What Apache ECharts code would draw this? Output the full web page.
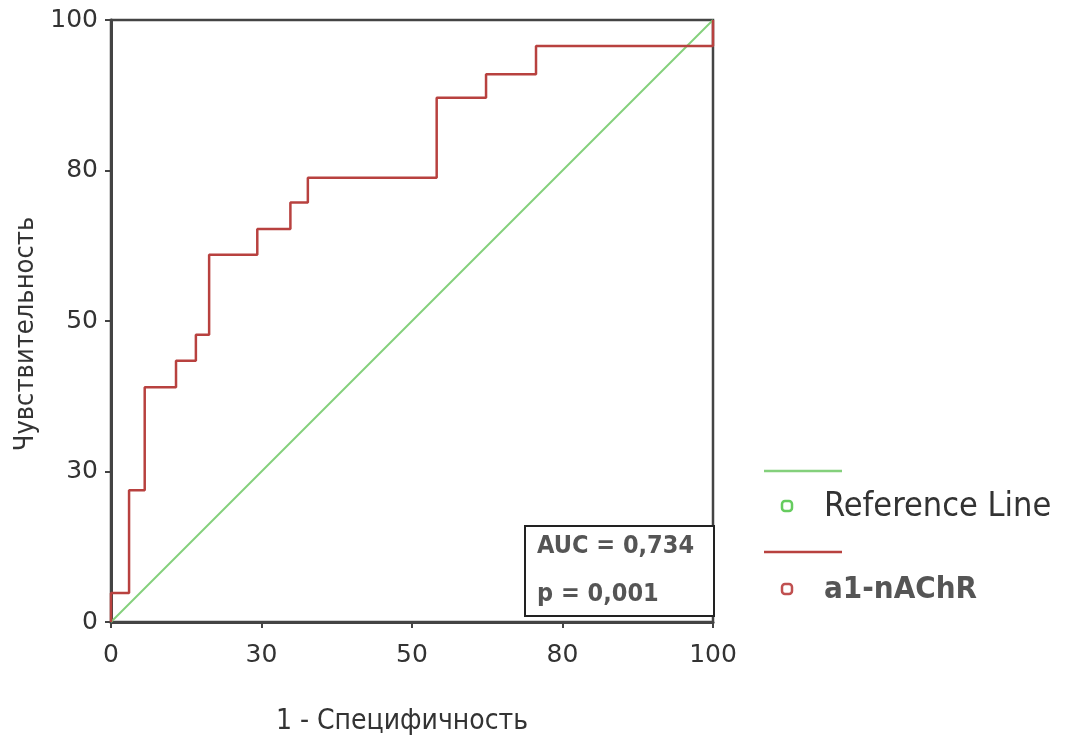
<!DOCTYPE html>
<html>
<head>
<meta charset="utf-8">
<script src="https://cdn.jsdelivr.net/npm/echarts@6/dist/echarts.min.js"></script>
<style>html,body{margin:0;padding:0;background:#fff}#c{width:1066px;height:745px}</style>
</head>
<body>
<div id="c"></div>
<script>
// ROC curve corner points (1 - specificity, sensitivity), in %
const rocFpr = [0, 0, 3.0, 5.6, 10.8, 14.1, 16.3, 24.3, 29.8, 32.7, 54.1, 62.3, 70.6, 100];
const rocTpr = [0, 4.8, 21.9, 39.0, 43.4, 47.7, 61.0, 65.3, 69.7, 73.8, 87.1, 91.0, 95.7, 100];
// Reference (diagonal) line
const refX = [0, 100];
const refY = [0, 100];
// Tick labels as printed on the chart (ticks at 0, 25, 50, 75, 100)
const xTickLabels = ['0', '30', '50', '80', '100'];
const yTickLabels = ['0', '30', '50', '80', '100'];
const seriesNames = ['Reference Line', 'a1-nAChR'];
const statLines = ['AUC = 0,734', 'p = 0,001'];

const chart = echarts.init(document.getElementById('c'));
const condensed = '"DejaVu Sans Condensed", "Liberation Sans Narrow", sans-serif';
const tickFont = '"DejaVu Sans", Verdana, sans-serif';

const option = {
  animation: false,
  grid: { left: 111, top: 20, width: 602, height: 602, show: true, borderColor: '#444', borderWidth: 2.5, backgroundColor: 'transparent' },
  xAxis: {
    type: 'value', min: 0, max: 100, interval: 25,
    name: '1 - Специфичность', nameLocation: 'middle', nameGap: 86,
    nameTextStyle: { fontFamily: condensed, fontSize: 28, color: '#333', padding: [0, 20, 0, 0] },
    axisLine: { show: true, lineStyle: { color: '#444', width: 3 } },
    axisTick: { show: true, length: 6, lineStyle: { color: '#444', width: 2 } },
    axisLabel: { fontFamily: tickFont, fontSize: 25, color: '#333', margin: 21,
      formatter: v => xTickLabels[Math.round(v / 25)] },
    splitLine: { show: false }
  },
  yAxis: {
    type: 'value', min: 0, max: 100, interval: 25,
    name: 'Чувствительность', nameLocation: 'middle', nameGap: 72, nameRotate: 90,
    nameTextStyle: { fontFamily: condensed, fontSize: 27, color: '#333', padding: [0, 26, 0, 0] },
    axisLine: { show: true, lineStyle: { color: '#444', width: 3 } },
    axisTick: { show: true, length: 6, lineStyle: { color: '#444', width: 2 } },
    axisLabel: { fontFamily: tickFont, fontSize: 25, color: '#333', margin: 13,
      formatter: v => yTickLabels[Math.round(v / 25)] },
    splitLine: { show: false }
  },
  series: [
    {
      name: seriesNames[0], type: 'line', symbol: 'none',
      data: refX.map((x, i) => [x, refY[i]]),
      lineStyle: { color: '#84d07c', width: 2 }, z: 2
    },
    {
      name: seriesNames[1], type: 'line', symbol: 'none', step: 'end',
      data: rocFpr.map((x, i) => [x, rocTpr[i]]),
      lineStyle: { color: '#b8413f', width: 2.5 }, z: 3
    }
  ],
  graphic: [
    // stats box
    { type: 'rect', left: 524, top: 525, shape: { width: 189, height: 90 },
      style: { fill: '#fff', stroke: '#222', lineWidth: 2 }, z: 10 },
    { type: 'text', x: 537, y: 546, z: 11,
      style: { text: statLines[0], font: 'bold 25px ' + condensed, fill: '#555', verticalAlign: 'middle' } },
    { type: 'text', x: 537, y: 594, z: 11,
      style: { text: statLines[1], font: 'bold 25px ' + condensed, fill: '#555', verticalAlign: 'middle' } },
    // legend: reference line
    { type: 'line', shape: { x1: 764, y1: 471, x2: 842, y2: 471 }, style: { stroke: '#84d07c', lineWidth: 2.5 } },
    { type: 'rect', shape: { x: 782, y: 501, width: 10, height: 10, r: 3 }, style: { fill: 'none', stroke: '#66cc5f', lineWidth: 2.5 } },
    { type: 'text', x: 824, y: 507, style: { text: seriesNames[0], font: '34px ' + condensed, fill: '#333', verticalAlign: 'middle' } },
    // legend: a1-nAChR
    { type: 'line', shape: { x1: 764, y1: 552, x2: 842, y2: 552 }, style: { stroke: '#b8413f', lineWidth: 2.5 } },
    { type: 'rect', shape: { x: 782, y: 584, width: 10, height: 10, r: 3 }, style: { fill: 'none', stroke: '#c05050', lineWidth: 2.5 } },
    { type: 'text', x: 824, y: 590, style: { text: seriesNames[1], font: 'bold 31px ' + condensed, fill: '#555', verticalAlign: 'middle' } }
  ]
};
chart.setOption(option);
</script>
</body>
</html>
